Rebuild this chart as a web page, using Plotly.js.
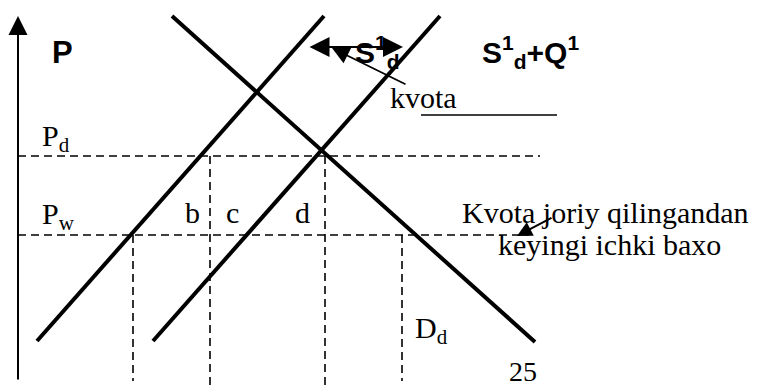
<!DOCTYPE html>
<html>
<head>
<meta charset="utf-8">
<script src="https://cdn.plot.ly/plotly-3.0.1.min.js"></script>
<style>html,body{margin:0;padding:0;background:#fff;}#chart{width:771px;height:389px;}</style>
</head>
<body>
<div id="chart"></div>
<script>
// Chart coordinates: quantity (x) and price (y), plotted on a 0..771 x 0..389 plane
const axisQ = [18, 18];
const axisP = [8, 373];
const supplyQ = [37, 324];          // S1 (domestic supply)
const supplyP = [48, 373];
const supplyQuotaQ = [153, 440];    // S1d + Q1
const supplyQuotaP = [48, 373];
const demandQ = [172, 535];         // Dd
const demandP = [373, 47];
const priceLevels = [233, 154];     // Pd, Pw
const priceLineEnds = [540, 529];
const guideQ = [133, 210, 325, 402];
const guideTop = [154, 233, 233, 154];
const guideBottom = [8, 0, 0, 8];
const underlineQ = [421, 557];
const underlineP = [274, 274];
const quotaArrowQ = [308, 403];
const quotaArrowP = 342;
const kvotaPointer = {fromQ: 407, fromP: 304, toQ: 332, toP: 341};
const bakhoPointer = {fromQ: 553, fromP: 172, toQ: 517, toP: 153};

const letterLabels = ['b', 'c', 'd'];
const letterQ = [192, 232, 302];
const letterP = 177;

const serif = 'Liberation Serif, Times New Roman, serif';
const sans = 'Liberation Sans, Arial, sans-serif';

const traces = [];
function line(x, y, width, dash) {
  traces.push({x: x, y: y, mode: 'lines', type: 'scatter', hoverinfo: 'skip',
    line: {color: '#000', width: width, dash: dash || 'solid'}, showlegend: false});
}
line(supplyQ, supplyP, 4);
line(supplyQuotaQ, supplyQuotaP, 4);
line(demandQ, demandP, 4);
priceLevels.forEach((p, i) => line([axisQ[0], priceLineEnds[i]], [p, p], 1.6, '8px,5px'));
guideQ.forEach((q, i) => line([q, q], [guideTop[i], guideBottom[i]], 1.6, '8px,5px'));
line(underlineQ, underlineP, 1.6);

const ann = [];
function txt(text, x, y, size, font, xanchor, yanchor) {
  ann.push({text: text, x: x, y: y, xref: 'x', yref: 'y', showarrow: false,
    xanchor: xanchor || 'left', yanchor: yanchor || 'middle',
    font: {family: font, size: size, color: '#000'}});
}
function arrow(fromQ, fromP, toQ, toP, width, size, both) {
  ann.push({x: toQ, y: toP, ax: fromQ, ay: fromP, xref: 'x', yref: 'y', axref: 'x', ayref: 'y',
    showarrow: true, text: '', arrowhead: 2, arrowsize: size, arrowwidth: width,
    arrowcolor: '#000', arrowside: both ? 'end+start' : 'end', startarrowhead: 2, startarrowsize: size});
}
// price axis arrow
arrow(axisQ[0], axisP[0], axisQ[1], axisP[1], 2, 1.9, false);
arrow(quotaArrowQ[0], quotaArrowP, quotaArrowQ[1], quotaArrowP, 2, 2.0, true);
arrow(kvotaPointer.fromQ, kvotaPointer.fromP, kvotaPointer.toQ, kvotaPointer.toP, 1.8, 1.9, false);
arrow(bakhoPointer.fromQ, bakhoPointer.fromP, bakhoPointer.toQ, bakhoPointer.toP, 2, 1.5, false);

txt('<b>P</b>', 50, 337, 31, sans);
txt('<b>S<sup>1</sup><sub>d</sub></b>', 353, 337, 30, sans);
txt('<b>S<sup>1</sup><sub>d</sub>+Q<sup>1</sup></b>', 480, 337, 30, sans);
txt('kvota', 388, 292, 30, serif);
txt('P<sub>d</sub>', 40, 251, 30, serif);
txt('P<sub>w</sub>', 40, 173, 30, serif);
letterLabels.forEach((l, i) => txt(l, letterQ[i], letterP, 30, serif, 'center'));
txt('D<sub>d</sub>', 413, 59, 30, serif);
txt('Kvota joriy qilingandan', 460, 177, 30, serif);
txt('keyingi ichki baxo', 496, 145, 30, serif);
txt('25', 523, 0, 28, serif, 'center', 'bottom');

const layout = {
  width: 771, height: 389,
  margin: {l: 0, r: 0, t: 0, b: 0, pad: 0},
  paper_bgcolor: '#fff', plot_bgcolor: '#fff',
  xaxis: {range: [0, 771], visible: false, fixedrange: true},
  yaxis: {range: [0, 389], visible: false, fixedrange: true},
  annotations: ann,
  showlegend: false
};
Plotly.newPlot('chart', traces, layout, {staticPlot: true, displayModeBar: false});
</script>
</body>
</html>
